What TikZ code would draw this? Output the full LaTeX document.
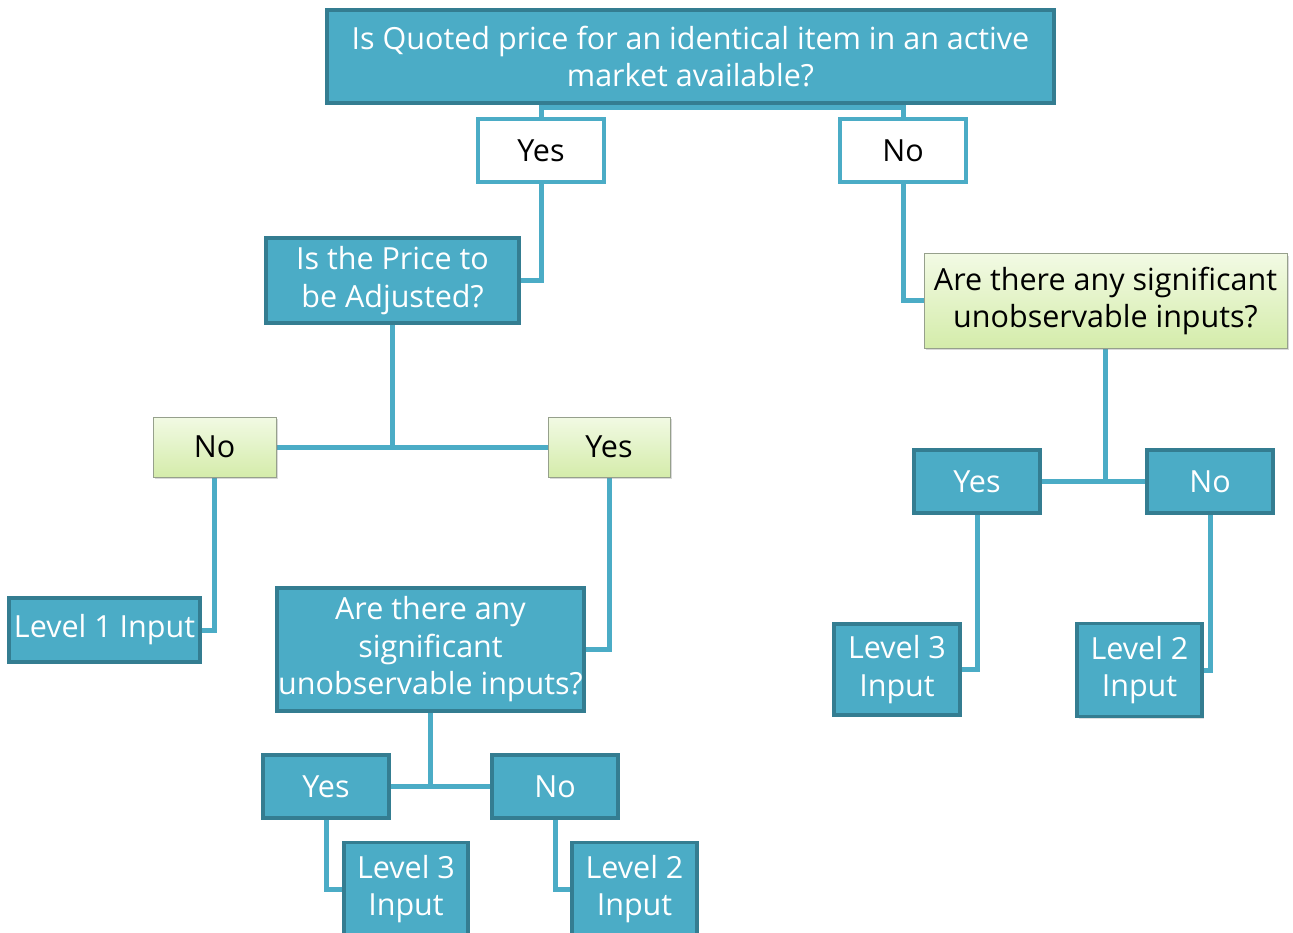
\documentclass[tikz,border=0pt]{standalone}
\usepackage{fontspec}
\setmainfont{Open Sans}
\usetikzlibrary{backgrounds,shadows}
\definecolor{boxblue}{RGB}{75,172,198}
\definecolor{boxedge}{RGB}{52,125,145}
\definecolor{linkblue}{RGB}{75,172,198}
\definecolor{greentop}{RGB}{242,250,228}
\definecolor{greenbot}{RGB}{212,236,170}
\definecolor{greenedge}{RGB}{150,160,140}
\tikzset{
  bluebox/.style={draw=boxedge, line width=3.5pt, fill=boxblue, text=white,
    align=center, inner sep=0pt, font=\fontsize{30.5}{37.5}\selectfont,
    drop shadow={shadow xshift=2pt, shadow yshift=-2pt, opacity=0.25}},
  whitebox/.style={draw=linkblue, line width=3.5pt, fill=white, text=black,
    align=center, inner sep=0pt, font=\fontsize{30.5}{37.5}\selectfont},
  greenbox/.style={draw=greenedge, line width=1pt, top color=greentop, bottom color=greenbot,
    text=black, align=center, inner sep=0pt, font=\fontsize{30.5}{37.5}\selectfont,
    drop shadow={shadow xshift=2pt, shadow yshift=-2pt, opacity=0.3}},
  conn/.style={draw=linkblue, line width=5pt}
}
\begin{document}
\begin{tikzpicture}[x=1pt,y=-1pt]
\useasboundingbox (0,0) rectangle (1293,933);
% nodes
\node[bluebox, minimum width=727pt, minimum height=93pt] (top) at (690.5,56.5)
  {Is Quoted price for an identical item in an active\\market available?};
\node[whitebox, minimum width=126pt, minimum height=63pt] (yes1) at (541,150.5) {Yes};
\node[whitebox, minimum width=126pt, minimum height=63pt] (no1) at (903,150.5) {No};
\node[bluebox, minimum width=253pt, minimum height=85pt] (adj) at (392.5,280.5)
  {Is the Price to\\be Adjusted?};
\node[greenbox, minimum width=363pt, minimum height=94pt] (q2) at (1105.5,301)
  {Are there any significant\\unobservable inputs?};
\node[greenbox, minimum width=123pt, minimum height=60pt] (no2) at (214.5,447) {No};
\node[greenbox, minimum width=122pt, minimum height=60pt] (yes2) at (609,447) {Yes};
\node[bluebox, minimum width=191pt, minimum height=64pt] (lvl1) at (104.5,630) {Level 1 Input};
\node[bluebox, minimum width=307pt, minimum height=123pt] (q3) at (430.5,649.5)
  {Are there any\\significant\\unobservable inputs?};
\node[bluebox, minimum width=126pt, minimum height=63pt] (yes3) at (326,786.5) {Yes};
\node[bluebox, minimum width=126pt, minimum height=63pt] (no3) at (555,786.5) {No};
\node[bluebox, minimum width=124pt, minimum height=93pt] (l3a) at (406,889) {Level 3\\Input};
\node[bluebox, minimum width=125pt, minimum height=93pt] (l2a) at (634.5,889) {Level 2\\Input};
\node[bluebox, minimum width=126pt, minimum height=63pt] (yes4) at (977,481.5) {Yes};
\node[bluebox, minimum width=126pt, minimum height=63pt] (no4) at (1210,481.5) {No};
\node[bluebox, minimum width=126pt, minimum height=91pt] (l3b) at (897,669.5) {Level 3\\Input};
\node[bluebox, minimum width=125pt, minimum height=93pt] (l2b) at (1139.5,670) {Level 2\\Input};
\coordinate (tj) at (690.5,108);
% connectors
\begin{pgfonlayer}{background}
\draw[conn] (top.south) -- (tj);
\draw[conn] (yes1.north) |- (tj) -| (no1.north);
\draw[conn] (yes1.south) |- (adj.east);
\draw[conn] (no1.south) |- (q2.west);
\draw[conn] (adj.south) -- (adj.south |- no2.east);
\draw[conn] (no2.east) -- (yes2.west);
\draw[conn] (no2.south) |- (lvl1.east);
\draw[conn] (yes2.south) |- (q3.east);
\draw[conn] (q3.south) -- (q3.south |- yes3.east);
\draw[conn] (yes3.east) -- (no3.west);
\draw[conn] (yes3.south) |- (l3a.west);
\draw[conn] (no3.south) |- (l2a.west);
\draw[conn] (q2.south) -- (q2.south |- yes4.east);
\draw[conn] (yes4.east) -- (no4.west);
\draw[conn] (yes4.south) |- (l3b.east);
\draw[conn] (no4.south) |- (l2b.west);
\end{pgfonlayer}
\end{tikzpicture}
\end{document}
